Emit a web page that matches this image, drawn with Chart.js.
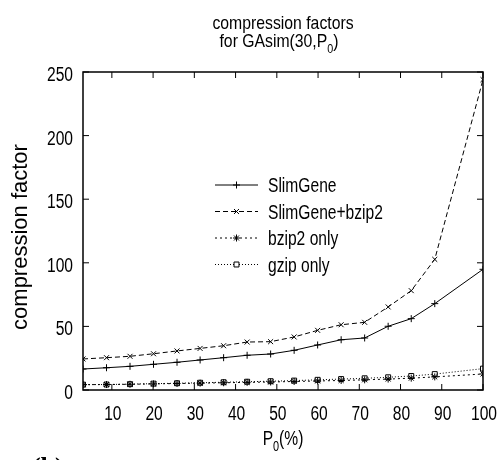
<!DOCTYPE html>
<html>
<head>
<meta charset="utf-8">
<script src="https://cdn.jsdelivr.net/npm/chart.js@4"></script>
<style>
  html, body { margin: 0; padding: 0; background: #fff; }
</style>
</head>
<body>
<canvas id="chart" width="501" height="460"></canvas>
<script>
const FONT = "'Liberation Sans', Arial, sans-serif";

// P0 (%) positions of the measured points
const xValues = [3, 8.7, 14.4, 20.1, 25.8, 31.4, 37.1, 42.8, 48.5, 54.2, 59.9, 65.6, 71.3, 77, 82.6, 88.3, 100];
const slimGene = [16.5, 17.5, 18.6, 20.2, 21.8, 23.6, 25.4, 27.3, 28.3, 31.2, 35.4, 39.5, 40.9, 50.1, 56.1, 67.9, 94.9];
const slimGeneBzip2 = [24.4, 25.4, 26.5, 28.5, 30.7, 32.7, 34.8, 37.7, 38.0, 41.7, 46.9, 51.3, 53.2, 65.3, 78.1, 102.7, 244];
const bzip2Only = [4.2, 4.3, 4.5, 4.8, 5.1, 5.4, 5.7, 6.0, 6.3, 6.7, 7.1, 7.5, 8.0, 8.6, 9.3, 10.3, 12.6];
const gzipOnly = [4.2, 4.3, 4.6, 5.0, 5.3, 5.7, 6.1, 6.5, 6.9, 7.4, 8.0, 8.6, 9.2, 10.0, 11.0, 12.5, 16.8];
const seriesNames = ["SlimGene", "SlimGene+bzip2", "bzip2 only", "gzip only"];
const xTicks = [10, 20, 30, 40, 50, 60, 70, 80, 90, 100];
const yTicks = [0, 50, 100, 150, 200, 250];

const toPoints = (ys) => ys.map((y, i) => ({ x: xValues[i], y: y }));

const styles = [
  { dash: [], point: "cross" },
  { dash: [5, 3], point: "crossRot" },
  { dash: [2, 3], point: "star" },
  { dash: [1, 2], point: "rect" }
];

function marker(ctx, style, x, y) {
  if (Chart.helpers && Chart.helpers.drawPoint) {
    ctx.save();
    ctx.setLineDash([]);
    ctx.strokeStyle = "#000";
    ctx.fillStyle = "#fff";
    ctx.lineWidth = 1;
    Chart.helpers.drawPoint(ctx, { pointStyle: style, radius: 3.5, borderWidth: 1, rotation: 0 }, x, y);
    ctx.restore();
  }
}

// draw narrow (horizontally squeezed) text, like the condensed Helvetica of the original
function narrow(ctx, text, x, y, size, sx, align) {
  ctx.save();
  ctx.font = size + "px " + FONT;
  ctx.textAlign = align || "left";
  ctx.translate(x, y);
  ctx.scale(sx, 1);
  ctx.fillText(text, 0, 0);
  ctx.restore();
}

// centred text with a subscript part: parts = [[text, isSub], ...]
function subText(ctx, parts, cx, y, size, sx) {
  const fontFor = (sub) => (sub ? Math.round(size * 0.7) : size) + "px " + FONT;
  let total = 0;
  const widths = parts.map(([t, sub]) => {
    ctx.font = fontFor(sub);
    const w = ctx.measureText(t).width * sx;
    total += w;
    return w;
  });
  let x = cx - total / 2;
  parts.forEach(([t, sub], i) => {
    narrow(ctx, t, x, sub ? y + size * 0.3 : y, sub ? Math.round(size * 0.7) : size, sx, "left");
    x += widths[i];
  });
}

const decor = {
  id: "decor",
  afterDraw(chart) {
    const ctx = chart.ctx;
    const a = chart.chartArea;
    const xs = chart.scales.x, ys = chart.scales.y;
    ctx.save();
    ctx.strokeStyle = "#000";
    ctx.fillStyle = "#000";
    ctx.lineWidth = 1.5;
    ctx.setLineDash([]);
    ctx.strokeRect(a.left, a.top, a.right - a.left, a.bottom - a.top);

    // inward ticks on all four sides
    ctx.lineWidth = 1;
    ctx.beginPath();
    yTicks.forEach(v => {
      const py = ys.getPixelForValue(v);
      ctx.moveTo(a.left, py); ctx.lineTo(a.left + 6, py);
      ctx.moveTo(a.right, py); ctx.lineTo(a.right - 6, py);
    });
    xTicks.forEach(v => {
      const px = xs.getPixelForValue(v);
      ctx.moveTo(px, a.bottom); ctx.lineTo(px, a.bottom - 6);
      ctx.moveTo(px, a.top); ctx.lineTo(px, a.top + 6);
    });
    ctx.stroke();

    // tick labels
    ctx.textBaseline = "alphabetic";
    yTicks.forEach(v => narrow(ctx, String(v), a.left - 10, ys.getPixelForValue(v) + 9, 20, 0.78, "right"));
    xTicks.forEach(v => narrow(ctx, String(v), xs.getPixelForValue(v) + 1, a.bottom + 30, 20, 0.78, "center"));

    // legend
    seriesNames.forEach((name, i) => {
      const y = 185 + i * 26.5;
      ctx.lineWidth = 1;
      ctx.setLineDash(styles[i].dash);
      ctx.beginPath();
      ctx.moveTo(215, y); ctx.lineTo(258, y);
      ctx.stroke();
      marker(ctx, styles[i].point, 236.5, y);
      narrow(ctx, name, 268, y + 7, 20, 0.78, "left");
    });

    // titles
    narrow(ctx, "compression factors", 283, 29, 19, 0.83, "center");
    subText(ctx, [["for GAsim(30,P", false], ["0", true], [")", false]], 279, 47, 19, 0.83);
    subText(ctx, [["P", false], ["0", true], ["(%)", false]], 283, 445, 20, 0.78);

    ctx.save();
    ctx.translate(27, 237);
    ctx.rotate(-Math.PI / 2);
    ctx.font = "22px " + FONT;
    ctx.textAlign = "center";
    ctx.fillText("compression factor", 0, 0);
    ctx.restore();

    ctx.font = "bold 26px 'Liberation Serif', serif";
    ctx.textAlign = "left";
    ctx.fillText("(b)", 32, 475);
    ctx.restore();
  }
};

const datasets = [slimGene, slimGeneBzip2, bzip2Only, gzipOnly].map((ys, i) => ({
  label: seriesNames[i],
  data: toPoints(ys),
  borderColor: "#000",
  backgroundColor: "#fff",
  borderWidth: 1,
  borderDash: styles[i].dash,
  pointStyle: styles[i].point,
  pointRadius: 3.5,
  pointBorderWidth: 1,
  pointBorderColor: "#000",
  pointBackgroundColor: "#fff",
  tension: 0,
  fill: false
}));

new Chart(document.getElementById("chart").getContext("2d"), {
  type: "line",
  data: { datasets: datasets },
  plugins: [decor],
  options: {
    responsive: false,
    animation: false,
    events: [],
    layout: { padding: { top: 72, right: 18, left: 0, bottom: 0 } },
    plugins: { legend: { display: false }, tooltip: { enabled: false } },
    scales: {
      x: {
        type: "linear",
        min: 3,
        max: 100,
        afterBuildTicks: (s) => { s.ticks = xTicks.map(v => ({ value: v })); },
        afterFit: (s) => { s.height = 70; },
        grid: { display: false, drawTicks: false },
        border: { display: false },
        ticks: { display: false }
      },
      y: {
        min: 0,
        max: 250,
        afterBuildTicks: (s) => { s.ticks = yTicks.map(v => ({ value: v })); },
        afterFit: (s) => { s.width = 83; },
        grid: { display: false, drawTicks: false },
        border: { display: false },
        ticks: { display: false }
      }
    }
  }
});
</script>
</body>
</html>
